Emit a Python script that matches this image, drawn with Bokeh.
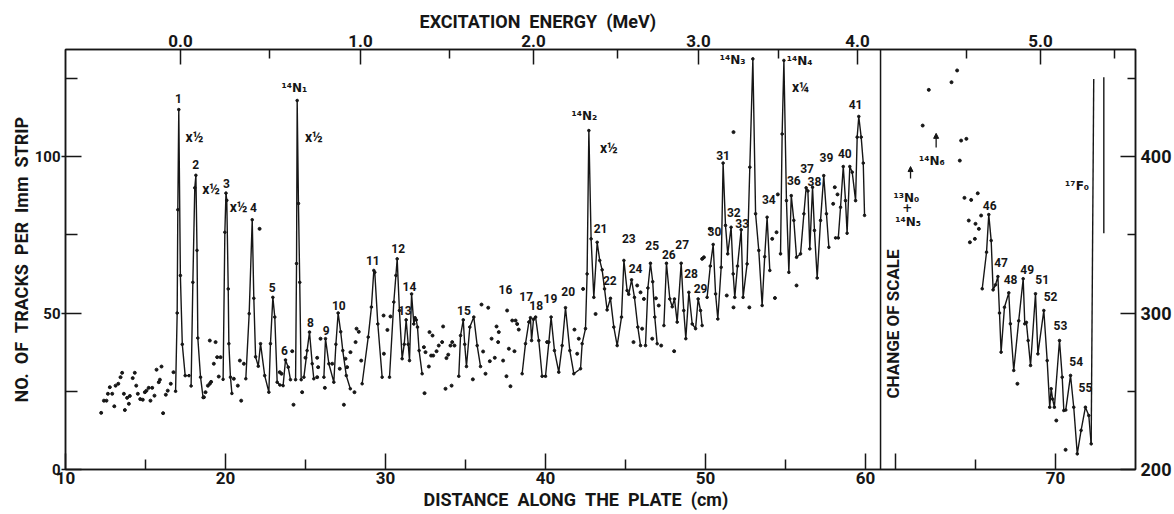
from math import pi

from bokeh.core.properties import value
from bokeh.embed import file_html
from bokeh.models import Arrow, FixedTicker, Label, LinearAxis, NormalHead, Range1d, Span, Title
from bokeh.plotting import figure
from bokeh.resources import INLINE

INK = "#161616"
FONT = "Roboto"
SUP_FONT = "DejaVu Sans"
GAP = "\u00a0\u00a0"   # wide word gap for the axis titles

# ---------------------------------------------------------------------------
# Scales
# ---------------------------------------------------------------------------
X_MAIN = (10.0, 76.875)      # distance along the plate (cm), left part
X_RIGHT = (8.125, 75.0)      # right part: own plate scale, resumes at 59.06 cm after the break
SHIFT = X_MAIN[0] - X_RIGHT[0]
BREAK_CM = 60.94             # where the scale changes
Y_LEFT = (0.0, 134.2)        # tracks per 1 mm strip, left part
Y_RIGHT = (200.0, 468.4)     # tracks per 1 mm strip, right part

# excitation energy calibration: energy (MeV) and the plate position it falls on
ENERGY_MEV = [0.0, 0.5, 1.0, 1.5, 2.0, 2.5, 3.0, 3.5, 4.0, 4.5, 5.0, 5.5]
ENERGY_CM = [17.19, 22.75, 28.44, 34.0, 39.25, 44.5, 49.56, 54.56, 59.5, 64.44, 69.06, 73.69]
ENERGY_PART = ["L"] * 9 + ["R"] * 3

# ---------------------------------------------------------------------------
# Traced peak groups, left part (cm, tracks per strip)
# ---------------------------------------------------------------------------
P1_CM = [16.88, 16.98, 17.02, 17.08, 17.18, 17.3, 17.48, 17.72]
P1_N = [25, 50, 83, 115, 62, 40, 30, 30]
P2_CM = [17.85, 17.96, 18.08, 18.15, 18.22, 18.27, 18.44, 18.6]
P2_N = [26.7, 59.8, 90, 94, 70, 42, 29.5, 23]
P3_CM = [19.85, 19.96, 20.03, 20.08, 20.17, 20.21, 20.31, 20.4]
P3_N = [28.8, 75.8, 88.3, 86, 57.7, 40.2, 29.5, 24.3]
P4_6_CM = [21.27, 21.48, 21.67, 21.77, 21.88, 22.05, 22.19, 22.45, 22.71, 22.81, 22.96,
           23.08, 23.23, 23.4, 23.6, 23.75, 23.92, 24.06]
P4_6_N = [29, 49.8, 79.8, 54.7, 36, 33, 40.2, 30, 24.7, 40.2, 55, 48.7, 27.9, 27, 26.8,
          35, 32.7, 28.7]
N1_CM = [24.38, 24.44, 24.48, 24.56, 24.64, 24.73]
N1_N = [28.7, 65.8, 117.9, 85, 59.8, 28.7]
P8_CM = [24.9, 25.1, 25.25, 25.42, 25.52]
P8_N = [29.5, 38, 43.9, 33.8, 29]
P9_10_CM = [26.15, 26.25, 26.46, 26.77, 26.9, 27.04, 27.2, 27.33, 27.55, 27.8]
P9_10_N = [29.5, 41.8, 33.8, 27.9, 40, 50, 44, 38, 30, 25.8]
P11_CM = [28.54, 28.92, 29.12, 29.27, 29.33, 29.52, 29.79]
P11_N = [27.4, 42.3, 51.9, 63.6, 63, 46.5, 29.5]
P12_14_CM = [30.25, 30.52, 30.65, 30.73, 30.87, 31.04, 31.17, 31.29, 31.42, 31.5, 31.63,
             31.77, 31.85, 31.92, 32.0, 32.1, 32.29]
P12_14_N = [29.5, 53.5, 62, 67.3, 50.8, 35.4, 40, 47.8, 40, 34.8, 56.1, 46.5, 48.5, 47.8,
            45.5, 38, 30.6]
P15_CM = [34.58, 34.69, 34.86, 34.95, 35.06, 35.27, 35.52, 35.73, 35.94]
P15_N = [29.8, 42.8, 47.8, 40, 32.9, 45.5, 48.7, 39.6, 32.9]
P17_24_CM = [38.54, 38.75, 38.96, 39.06, 39.13, 39.25, 39.38, 39.58, 39.79, 40.0, 40.21,
             40.35, 40.56, 40.83, 41.04, 41.25, 41.52, 41.77, 42.19, 42.29, 42.5, 42.6,
             42.71, 42.85, 43.02, 43.23, 43.39, 43.54, 43.69, 43.85, 44.06, 44.27, 44.48,
             44.75, 44.9, 45.1, 45.2, 45.38, 45.56, 45.77, 45.94]
P17_24_N = [30.6, 40.2, 47.1, 48.5, 41.2, 48, 48.7, 41.2, 29.8, 29.8, 40.7, 48.7, 38, 31.1,
            39.6, 51.7, 38, 30.6, 32.2, 40.2, 45, 62.5, 108.3, 73.7, 55, 72.6, 66.8, 63.8,
            57.7, 51, 54.7, 45.5, 39.6, 48.7, 66.8, 57.2, 56, 60.6, 55, 45.5, 39.6]
P25_CM = [46.25, 46.4, 46.56, 46.7, 46.83, 46.98]
P25_N = [39.6, 58, 65.9, 60, 48.7, 40.2]
P26_29_CM = [47.4, 47.56, 47.77, 47.92, 48.06, 48.23, 48.48, 48.64, 48.77, 48.96, 49.17,
             49.38, 49.54, 49.69, 49.79]
P26_29_N = [46, 65.9, 54.5, 52, 54.5, 47.1, 65.9, 50.8, 41.8, 56.6, 46.5, 45, 54.5, 50.8, 46]
P30_34_CM = [50.1, 50.3, 50.48, 50.63, 50.77, 50.98, 51.1, 51.25, 51.39, 51.6, 51.73, 51.83,
             52.0, 52.23, 52.35, 52.6, 52.77, 52.96, 53.13, 53.33, 53.54, 53.7, 53.85, 54.02]
P30_34_N = [55, 65, 71.9, 56.1, 48.1, 64.6, 97.9, 78, 68.9, 77.4, 62.5, 55, 65, 76.6, 55,
            65.7, 96.6, 131.2, 81.7, 70, 52.4, 68, 80.6, 63.6]
P35_39_CM = [54.69, 54.79, 54.9, 55.06, 55.21, 55.36, 55.52, 55.69, 55.94, 56.15, 56.29,
             56.4, 56.52, 56.69, 56.81, 56.98, 57.19, 57.39, 57.56, 57.71]
P35_39_N = [68.9, 107.2, 130.7, 85.9, 63, 87.5, 79.6, 67.8, 68.9, 81.7, 90, 89, 70.5, 90.2,
            76.4, 61.2, 79.6, 93.9, 81.7, 71]
P40_41_CM = [58.13, 58.3, 58.44, 58.61, 58.75, 58.85, 59.02, 59.17, 59.38, 59.48, 59.58,
             59.73, 59.86, 59.94]
P40_41_N = [74, 74, 83.8, 96.8, 85.9, 75.5, 96.8, 95, 85.9, 106.2, 112.8, 106.2, 97.9, 81.2]

# background strips (not on a traced peak), left part
BG_CM = [12.23, 12.4, 12.56, 12.65, 12.77, 12.92, 13.05, 13.13, 13.3, 13.44, 13.54, 13.65,
         13.71, 13.85, 13.96, 14.02, 14.2, 14.33, 14.42, 14.52, 14.67, 14.83, 14.96, 15.06,
         15.2, 15.31, 15.42, 15.56, 15.69, 15.83, 15.9, 16.0, 16.1, 16.27, 16.39, 16.58, 16.75,
         18.65, 18.75, 18.9, 19.02, 19.1, 19.02, 19.38, 19.27, 19.48, 19.69, 19.58,
         20.52, 20.77, 20.98, 20.9, 21.15, 22.13,
         23.39, 23.5, 24.17, 24.25, 24.79, 25.0, 25.73, 25.79, 25.73, 25.94, 26.21, 26.67,
         27.14, 27.4, 27.5, 27.6, 27.81, 28.06, 28.13, 28.19, 28.33, 28.48, 29.88, 29.9,
         30.12, 30.31,
         32.4, 32.5, 32.44, 32.71, 32.75, 32.85, 32.98, 32.94, 33.19, 33.33, 33.54, 33.6,
         33.81, 33.92, 34.06, 34.17, 34.31, 33.75, 34.13,
         35.46, 36.0, 36.42, 36.1, 36.25, 36.52, 36.63, 36.83, 36.94, 37.08, 37.04, 37.35,
         37.56, 37.6, 37.71, 37.81, 37.92, 38.13, 38.23, 38.33, 38.06,
         40.1, 41.81, 41.98, 42.08, 42.35, 43.13, 45.5, 45.73, 45.94, 46.04, 46.15, 46.67,
         46.9, 47.08, 47.23, 48.04, 49.79, 49.9, 50.27, 51.33, 51.75, 51.75, 52.74, 54.17,
         54.34, 54.44, 54.52, 55.69, 57.98, 58.08, 58.25]
BG_N = [18.1, 22, 22, 24.2, 26.3, 24.2, 20.2, 26.8, 27.4, 29.5, 30.9, 24.2,
        19, 22.9, 21, 23.5, 29.2, 30.9, 26.8, 24.2, 22.5, 22.3, 24.7, 25.2,
        26.1, 22, 26.1, 23.6, 31.9, 27.9, 28.7, 32.9, 18, 23.9, 25.2, 27.4, 31.1,
        23.1, 24.7, 26.8, 27.4, 28, 41.2, 40.7, 33.8, 35.9, 35.9, 29.7,
        29, 26.8, 22, 34.8, 33.8, 76.9,
        31.1, 30.6, 37.8, 20.7, 24.7, 35.7, 35.7, 32.7, 29.5, 41.8, 26.1, 33.8,
        32.2, 20.7, 35.4, 32.7, 37.5, 24.7, 40.7, 45, 44, 34.8, 49.2, 37,
        44.6, 48.9,
        39.1, 37.5, 24.4, 32.9, 43.9, 36.4, 36.4, 42.8, 37.8, 39.6, 40.7, 45.7,
        35.6, 36.7, 39.6, 40.7, 39.6, 25.8, 26.8,
        28.8, 52.7, 51.7, 37.7, 30.6, 34.6, 41.8, 35.7, 45.7, 43.9, 40.7, 34.8,
        29.8, 50.8, 38.6, 26.6, 47.6, 47.6, 46.5, 44.7, 37.8,
        40.7, 44.7, 37, 41.8, 57.7, 49.7, 40.7, 58.8, 56.6, 45, 54.5, 41.8,
        54.7, 52.4, 39.6, 37.8, 67.3, 67.8, 76.9, 55.6, 107.8, 51.8, 51.8, 73.7,
        54.8, 75.8, 87.9, 58.8, 84.9, 90.2, 87.9]

# ---------------------------------------------------------------------------
# Right part (changed scale)
# ---------------------------------------------------------------------------
P46_55_CM = [65.42, 65.69, 65.83, 65.98, 66.1, 66.25, 66.4, 66.5, 66.6, 66.81, 67.08, 67.18,
             67.39, 67.7, 67.98, 68.08, 68.18, 68.29, 68.44, 68.75, 68.9, 69.27, 69.48,
             69.64, 69.73, 69.82, 69.93, 70.25, 70.42, 70.52, 70.64, 70.94, 71.14, 71.36,
             71.6, 71.87, 72.08, 72.23]
P46_55_N = [315.5, 338.9, 362.9, 346.3, 314.8, 318, 323.3, 300, 275, 303.7, 312.9, 293.1,
            263.3, 295, 321.9, 293.1, 294, 282.4, 266.5, 312.3, 273.9, 301.6, 269.6,
            239.8, 251.6, 245, 239.8, 282.4, 259, 237.7, 238, 260.1, 239.8, 210,
            225, 239.8, 234.5, 216.4]
F17_RISE_CM = [72.23, 72.39]     # 17F ground state, off scale
F17_RISE_N = [216.4, 449.6]
F17_FALL_CM = [73.02, 73.02]
F17_FALL_N = [351.0, 450.7]

BG_R_CM = [63.85, 63.5, 62.08, 61.7, 64.1, 64.43, 64.02, 64.31, 64.73, 65.14, 64.58, 65.0,
           65.21, 65.35, 64.65, 64.96, 67.62, 70.05, 70.63]
BG_R_N = [455, 447.5, 442.6, 419.8, 410.2, 411.3, 397.4, 373.6, 372.3, 376.5, 359.1, 357.0,
          353.8, 362.3, 345.2, 347.4, 254.8, 231.3, 212.6]

# ---------------------------------------------------------------------------
# Labels
# ---------------------------------------------------------------------------
PEAK_TAG = ["1", "2", "3", "4", "5", "6", "8", "9", "10", "11", "12", "13", "14", "15", "16",
            "17", "18", "19", "20", "21", "22", "23", "24", "25", "26", "27", "28", "29",
            "30", "31", "32", "33", "34", "36", "37", "38", "39", "40", "41"]
PEAK_TAG_CM = [17.06, 18.13, 20.06, 21.75, 22.92, 23.69, 25.31, 26.29, 27.08, 29.21, 30.79,
               31.21, 31.5, 34.9, 37.5, 38.79, 39.42, 40.31, 41.42, 43.44, 44.02, 45.21,
               45.63, 46.67, 47.71, 48.54, 49.1, 49.69, 50.56, 51.1, 51.77, 52.29, 53.96,
               55.52, 56.35, 56.81, 57.56, 58.71, 59.38]
PEAK_TAG_N = [118.5, 97.4, 91.5, 83.8, 58.2, 38, 47.1, 44.4, 52.4, 66.8, 70.5, 50.8, 58.5,
              50.8, 57.4, 55.3, 52.3, 54.5, 56.9, 76.9, 60.4, 73.7, 64.3, 71.6, 68.7, 71.9,
              62.7, 57.7, 76.1, 100.3, 82.2, 78.7, 86.2, 92.3, 96.1, 92.1, 99.6, 101.1, 116.6]

PEAK_TAG_R = ["46", "47", "48", "49", "51", "52", "53", "54", "55"]
PEAK_TAG_R_CM = [65.89, 66.6, 67.19, 68.23, 69.17, 69.69, 70.31, 71.29, 71.87]
PEAK_TAG_R_N = [368.7, 332.5, 321.2, 327.6, 321.2, 310.5, 292, 269.2, 252.2]

SCALE_TAG = ["x½", "x½", "x½", "x½", "x½", "x¼"]
SCALE_TAG_CM = [18.06, 19.1, 20.82, 25.52, 43.96, 55.94]
SCALE_TAG_N = [106.4, 89.7, 83.8, 106.4, 102.8, 122.1]

NUCLIDE_TAG = ["¹⁴N₁", "¹⁴N₂", "¹⁴N₃", "¹⁴N₄"]
NUCLIDE_TAG_CM = [24.31, 42.43, 51.69, 55.88]
NUCLIDE_TAG_N = [122.0, 112.8, 130.7, 130.5]

NUCLIDE_TAG_R = ["¹³N₀", "+", "¹⁴N₅", "¹⁴N₆", "¹⁷F₀"]
NUCLIDE_TAG_R_CM = [60.68, 60.73, 60.79, 62.27, 71.35]
NUCLIDE_TAG_R_N = [373.2, 367.6, 358.1, 396.9, 381.0]

# arrows marking expected positions (cm, from count, to count)
ARROW_CM = [60.94, 62.54]
ARROW_FROM = [385.9, 405.8]
ARROW_TO = [393.6, 414.8]

# ---------------------------------------------------------------------------
p = figure(width=1174, height=514, x_range=Range1d(*X_MAIN), y_range=Range1d(*Y_LEFT),
           output_backend="svg", toolbar_location=None,
           min_border_left=65, min_border_right=39, min_border_top=49, min_border_bottom=45,
           background_fill_color="white", border_fill_color="white")
p.extra_x_ranges = {"right": Range1d(*X_RIGHT)}
p.extra_y_ranges = {"right": Range1d(*Y_RIGHT)}
p.grid.visible = False
p.outline_line_color = INK
p.outline_line_width = 1.5


def style_axis(ax, size, tick_in, tick_out, minor_in, standoff):
    ax.axis_line_color = INK
    ax.axis_line_width = 1.5
    ax.major_tick_in = tick_in
    ax.major_tick_out = tick_out
    ax.minor_tick_in = minor_in
    ax.minor_tick_out = 0
    ax.major_tick_line_color = INK
    ax.major_tick_line_width = 1.5
    ax.minor_tick_line_color = INK
    ax.minor_tick_line_width = 1.5
    ax.major_label_text_font = FONT
    ax.major_label_text_font_style = "bold"
    ax.major_label_text_font_size = size
    ax.major_label_text_color = INK
    ax.major_label_standoff = standoff


# bottom: plate distance, with the right part's own ticks past the break
bottom = p.xaxis[0]
b_major = [10, 20, 30, 40, 50, 60, 60 + SHIFT, 70 + SHIFT]
b_minor = [15, 25, 35, 45, 55, 65 + SHIFT]
bottom.ticker = FixedTicker(ticks=b_major, minor_ticks=b_minor)
bottom.major_label_overrides = {60 + SHIFT: "", 70 + SHIFT: "70"}
style_axis(bottom, "17px", 16, 0, 10, 2)

# left: counts
left = p.yaxis[0]
left.ticker = FixedTicker(ticks=[0, 50, 100], minor_ticks=[25, 75, 125])
style_axis(left, "15px", 16, 4, 12, 1)

# right: counts on the changed scale
right = LinearAxis(y_range_name="right",
                   ticker=FixedTicker(ticks=[200, 300, 400], minor_ticks=[250, 350, 450]))
style_axis(right, "18px", 15, 0, 8, 5)
p.add_layout(right, "right")

# top: excitation energy
e_pos = [c if part == "L" else c + SHIFT for c, part in zip(ENERGY_CM, ENERGY_PART)]
e_major = [x for x, e in zip(e_pos, ENERGY_MEV) if abs(e - round(e)) < 1e-9]
e_minor = [x for x, e in zip(e_pos, ENERGY_MEV) if abs(e - round(e)) > 1e-9]
top = LinearAxis(ticker=FixedTicker(ticks=e_major, minor_ticks=e_minor))
top.major_label_overrides = {x: f"{e:.1f}" for x, e in zip(e_pos, ENERGY_MEV)
                             if abs(e - round(e)) < 1e-9}
style_axis(top, "17px", 15, 0, 9, 3)
p.add_layout(top, "above")

# axis titles (left-aligned with pixel offsets from the frame edge)
title_kw = dict(text_font=FONT, text_font_style="bold", text_color=INK, align="left",
                standoff=0, text_font_size="18px")
p.title.text = GAP.join(["EXCITATION", "ENERGY", "(MeV)"])
p.title.text_font = FONT
p.title.text_font_style = "bold"
p.title.text_font_size = "18px"
p.title.text_color = INK
p.title.align = "left"
p.title.offset = 354
p.title.standoff = 0
p.add_layout(Title(text=GAP.join(["DISTANCE", "ALONG", "THE", "PLATE", "(cm)"]),
                   offset=358, **title_kw), "below")
p.add_layout(Title(text=GAP.join(["NO.", "OF", "TRACKS", "PER", "Imm", "STRIP"]),
                   offset=67, **title_kw), "left")

p.add_layout(Span(location=BREAK_CM, dimension="height", line_color=INK, line_width=1.5))

# traced curves
left_traces = [(P1_CM, P1_N), (P2_CM, P2_N), (P3_CM, P3_N), (P4_6_CM, P4_6_N), (N1_CM, N1_N),
               (P8_CM, P8_N), (P9_10_CM, P9_10_N), (P11_CM, P11_N), (P12_14_CM, P12_14_N),
               (P15_CM, P15_N), (P17_24_CM, P17_24_N), (P25_CM, P25_N),
               (P26_29_CM, P26_29_N), (P30_34_CM, P30_34_N), (P35_39_CM, P35_39_N),
               (P40_41_CM, P40_41_N)]
p.multi_line(xs=[t[0] for t in left_traces], ys=[t[1] for t in left_traces],
             line_color=INK, line_width=1.4, line_join="round")
p.scatter([x for t in left_traces for x in t[0]], [y for t in left_traces for y in t[1]],
          size=2.6, color=INK)
p.scatter(BG_CM, BG_N, size=3, color=INK)

right_traces = [(P46_55_CM, P46_55_N), (F17_RISE_CM, F17_RISE_N), (F17_FALL_CM, F17_FALL_N)]
p.multi_line(xs=[t[0] for t in right_traces], ys=[t[1] for t in right_traces],
             line_color=INK, line_width=1.4, line_join="round",
             x_range_name="right", y_range_name="right")
p.scatter(P46_55_CM, P46_55_N, size=2.6, color=INK, x_range_name="right", y_range_name="right")
p.scatter(BG_R_CM, BG_R_N, size=3, color=INK, x_range_name="right", y_range_name="right")

for xa, y0, y1 in zip(ARROW_CM, ARROW_FROM, ARROW_TO):
    p.add_layout(Arrow(end=NormalHead(size=5, fill_color=INK, line_color=INK),
                       x_start=xa, y_start=y0, x_end=xa, y_end=y1, line_color=INK,
                       line_width=1.3, x_range_name="right", y_range_name="right"))

# text on the curves
txt = dict(text_align="center", text_baseline="middle", text_color=INK)
p.text(PEAK_TAG_CM, PEAK_TAG_N, text=PEAK_TAG, text_font=value(FONT),
       text_font_style="bold", text_font_size="12px", **txt)
p.text(SCALE_TAG_CM, SCALE_TAG_N, text=SCALE_TAG, text_font=value(FONT),
       text_font_style="bold", text_font_size="14px", **txt)
p.text(NUCLIDE_TAG_CM, NUCLIDE_TAG_N, text=NUCLIDE_TAG, text_font=value(SUP_FONT),
       text_font_style="bold", text_font_size="12px", **txt)
p.text(PEAK_TAG_R_CM, PEAK_TAG_R_N, text=PEAK_TAG_R, text_font=value(FONT),
       text_font_style="bold", text_font_size="12px", x_range_name="right",
       y_range_name="right", **txt)
p.text(NUCLIDE_TAG_R_CM, NUCLIDE_TAG_R_N, text=NUCLIDE_TAG_R, text_font=value(SUP_FONT),
       text_font_style="bold", text_font_size="12px", x_range_name="right",
       y_range_name="right", **txt)

p.add_layout(Label(x=59.84, y=293, text="CHANGE OF SCALE", angle=pi / 2,
                   text_font=FONT, text_font_style="bold", text_color=INK,
                   text_align="center", text_baseline="middle", text_font_size="17px",
                   x_range_name="right", y_range_name="right"))

open("out.html", "w").write(file_html(p, INLINE))
